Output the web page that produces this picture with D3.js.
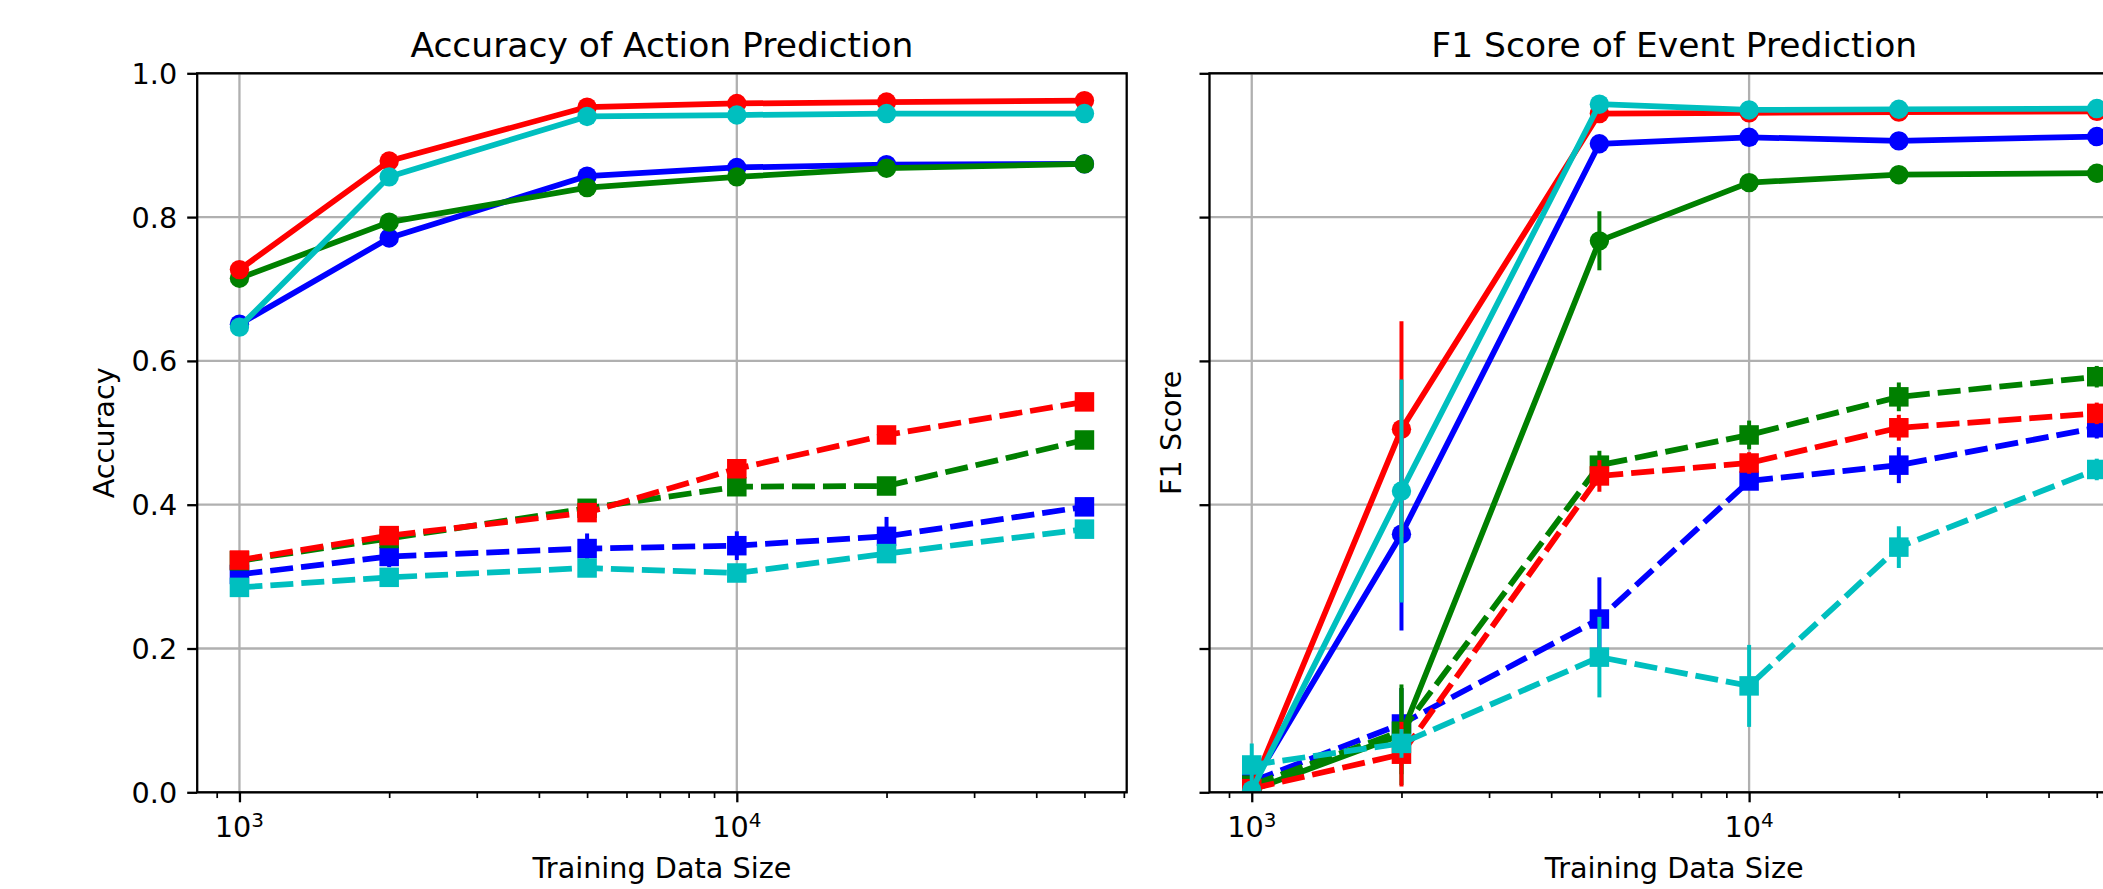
<!DOCTYPE html>
<html>
<head>
<meta charset="utf-8">
<script src="https://cdn.jsdelivr.net/npm/d3@7"></script>
<style>
  html, body { margin: 0; padding: 0; background: #fff; overflow: hidden; }
  svg { display: block; }
  text { font-family: "DejaVu Sans", sans-serif; fill: #000; }
</style>
</head>
<body>
<script>
  // training sizes (x) and the series, rows ordered blue, green, red, cyan
  var sizes = [1000, 2000, 5000, 10000, 20000, 50000];
  var colors = ["#0000ff", "#008000", "#ff0000", "#00bfbf"];
  var xMajor = [1000, 10000];
  var yTicks = [0, 0.2, 0.4, 0.6, 0.8, 1.0];

  var accSolid = [
    [0.651, 0.771, 0.857, 0.869, 0.873, 0.874],
    [0.715, 0.793, 0.841, 0.856, 0.868, 0.874],
    [0.727, 0.878, 0.953, 0.958, 0.960, 0.962],
    [0.647, 0.856, 0.940, 0.942, 0.944, 0.944]
  ];
  var accSolidErr = [
    [0.005, 0.005, 0.005, 0.005, 0.004, 0.004],
    [0.005, 0.005, 0.005, 0.004, 0.004, 0.004],
    [0.005, 0.005, 0.004, 0.004, 0.004, 0.004],
    [0.005, 0.005, 0.004, 0.004, 0.004, 0.004]
  ];
  var accDashed = [
    [0.303, 0.328, 0.339, 0.343, 0.356, 0.397],
    [0.322, 0.353, 0.395, 0.425, 0.426, 0.490],
    [0.323, 0.357, 0.389, 0.450, 0.497, 0.543],
    [0.285, 0.299, 0.312, 0.305, 0.332, 0.366]
  ];
  var accDashedErr = [
    [0.010, 0.015, 0.021, 0.020, 0.027, 0.010],
    [0.010, 0.010, 0.010, 0.010, 0.010, 0.010],
    [0.010, 0.010, 0.010, 0.010, 0.010, 0.010],
    [0.010, 0.010, 0.010, 0.010, 0.010, 0.010]
  ];

  var f1Solid = [
    [0.010, 0.359, 0.902, 0.911, 0.906, 0.912],
    [0.003, 0.080, 0.767, 0.848, 0.859, 0.861],
    [0.005, 0.505, 0.944, 0.945, 0.946, 0.947],
    [0.003, 0.419, 0.957, 0.949, 0.950, 0.951]
  ];
  var f1SolidErr = [
    [0.005, 0.134, 0.005, 0.005, 0.005, 0.005],
    [0.005, 0.070, 0.041, 0.005, 0.005, 0.005],
    [0.005, 0.150, 0.005, 0.005, 0.005, 0.005],
    [0.005, 0.155, 0.005, 0.005, 0.005, 0.005]
  ];
  var f1Dashed = [
    [0.015, 0.095, 0.241, 0.433, 0.455, 0.507],
    [0.010, 0.085, 0.455, 0.497, 0.550, 0.578],
    [0.005, 0.053, 0.440, 0.458, 0.507, 0.527],
    [0.038, 0.068, 0.188, 0.148, 0.341, 0.449]
  ];
  var f1DashedErr = [
    [0.010, 0.050, 0.058, 0.010, 0.025, 0.015],
    [0.010, 0.060, 0.020, 0.020, 0.020, 0.015],
    [0.005, 0.045, 0.022, 0.015, 0.018, 0.015],
    [0.030, 0.020, 0.056, 0.057, 0.029, 0.015]
  ];

  var width = 2103, height = 889;
  var marginTop = 73.3, axW = 929.5, axH = 719;
  var lw = 5.75, thin = 2.3;

  var svg = d3.select("body").append("svg")
      .attr("width", width)
      .attr("height", height);

  // log x with 5% margins in log space (matplotlib style)
  var lx = d3.extent(sizes).map(Math.log10),
      pad = (lx[1] - lx[0]) * 0.05;
  var xScale = d3.scaleLog()
      .domain([Math.pow(10, lx[0] - pad), Math.pow(10, lx[1] + pad)])
      .range([0, axW]);
  var yScale = d3.scaleLinear().domain([0, 1]).range([axH, 0]);

  var minorTicks = [];
  [100, 1000, 10000].forEach(function(dec) {
    for (var k = 2; k < 10; k++) {
      var v = dec * k;
      if (v > xScale.domain()[0] && v < xScale.domain()[1]) minorTicks.push(v);
    }
  });

  function drawSeries(g, vals, errs, color, dashed) {
    var pts = sizes.map(function(s, j) { return {x: s, y: vals[j], e: errs[j]}; });
    var s = g.append("g");

    s.selectAll("line").data(pts).enter().append("line")
      .attr("x1", function(d) { return xScale(d.x); })
      .attr("x2", function(d) { return xScale(d.x); })
      .attr("y1", function(d) { return yScale(d.y - d.e); })
      .attr("y2", function(d) { return yScale(d.y + d.e); })
      .attr("stroke", color)
      .attr("stroke-width", 4);

    var line = d3.line()
      .x(function(d) { return xScale(d.x); })
      .y(function(d) { return yScale(d.y); });

    s.append("path")
      .datum(pts)
      .attr("d", line)
      .attr("fill", "none")
      .attr("stroke", color)
      .attr("stroke-width", lw)
      .attr("stroke-linejoin", "round")
      .attr("stroke-dasharray", dashed ? "23,8" : null);

    if (dashed) {
      s.selectAll("rect").data(pts).enter().append("rect")
        .attr("x", function(d) { return xScale(d.x) - 9.75; })
        .attr("y", function(d) { return yScale(d.y) - 9.75; })
        .attr("width", 19.5)
        .attr("height", 19.5)
        .attr("fill", color);
    } else {
      s.selectAll("circle").data(pts).enter().append("circle")
        .attr("cx", function(d) { return xScale(d.x); })
        .attr("cy", function(d) { return yScale(d.y); })
        .attr("r", 9.7)
        .attr("fill", color);
    }
  }

  function drawPanel(id, x0, title, ylabel, ylabelX, solid, solidErr, dashed, dashedErr, tickLabels) {
    var g = svg.append("g")
        .attr("transform", "translate(" + x0 + "," + marginTop + ")");

    g.append("clipPath").attr("id", id)
      .append("rect").attr("width", axW).attr("height", axH);

    // grid
    g.append("g").selectAll("line").data(xMajor).enter().append("line")
      .attr("x1", function(d) { return xScale(d); })
      .attr("x2", function(d) { return xScale(d); })
      .attr("y1", 0).attr("y2", axH)
      .attr("stroke", "#b0b0b0").attr("stroke-width", thin);
    g.append("g").selectAll("line").data(yTicks).enter().append("line")
      .attr("x1", 0).attr("x2", axW)
      .attr("y1", function(d) { return yScale(d); })
      .attr("y2", function(d) { return yScale(d); })
      .attr("stroke", "#b0b0b0").attr("stroke-width", thin);

    var data = g.append("g").attr("clip-path", "url(#" + id + ")");
    colors.forEach(function(c, i) {
      drawSeries(data, solid[i], solidErr[i], c, false);
      drawSeries(data, dashed[i], dashedErr[i], c, true);
    });

    // spines
    g.append("rect")
      .attr("width", axW).attr("height", axH)
      .attr("fill", "none").attr("stroke", "#000").attr("stroke-width", thin);

    // axis-x
    var xa = g.append("g")
      .attr("transform", "translate(0," + axH + ")")
      .call(d3.axisBottom(xScale).tickValues(xMajor).tickSize(10).tickFormat(""));
    xa.select(".domain").remove();
    xa.selectAll("line").attr("stroke-width", thin);
    var xm = g.append("g")
      .attr("transform", "translate(0," + axH + ")")
      .call(d3.axisBottom(xScale).tickValues(minorTicks).tickSize(5.75).tickFormat(""));
    xm.select(".domain").remove();
    xm.selectAll("line").attr("stroke-width", 1.7);

    var lab = g.append("g").selectAll("text").data(xMajor).enter().append("text")
      .attr("x", function(d) { return xScale(d); })
      .attr("y", axH + 44.4)
      .attr("text-anchor", "middle")
      .style("font-size", "28.7px");
    lab.append("tspan").text("10");
    lab.append("tspan").attr("dy", -10).style("font-size", "20px")
      .text(function(d) { return Math.round(Math.log10(d)); });

    // axis-y
    var ya = g.append("g")
      .call(d3.axisLeft(yScale).tickValues(yTicks).tickSize(10).tickFormat(""));
    ya.select(".domain").remove();
    ya.selectAll("line").attr("stroke-width", thin);
    if (tickLabels) {
      g.append("g").selectAll("text").data(yTicks).enter().append("text")
        .attr("x", -20)
        .attr("y", function(d) { return yScale(d); })
        .attr("dy", "0.3645em")
        .attr("text-anchor", "end")
        .style("font-size", "28.7px")
        .text(function(d) { return d.toFixed(1); });
    }

    g.append("text")
      .attr("x", axW / 2).attr("y", -16.3)
      .attr("text-anchor", "middle")
      .style("font-size", "34.5px")
      .text(title);

    g.append("text")
      .attr("x", axW / 2).attr("y", axH + 85.7)
      .attr("text-anchor", "middle")
      .style("font-size", "28.7px")
      .text("Training Data Size");

    g.append("text")
      .attr("transform", "translate(" + ylabelX + "," + (axH / 2) + ") rotate(-90)")
      .attr("text-anchor", "middle")
      .style("font-size", "28.7px")
      .text(ylabel);
  }

  drawPanel("clipA", 197.2, "Accuracy of Action Prediction", "Accuracy", -83,
            accSolid, accSolidErr, accDashed, accDashedErr, true);
  drawPanel("clipB", 1209.5, "F1 Score of Event Prediction", "F1 Score", -28.5,
            f1Solid, f1SolidErr, f1Dashed, f1DashedErr, false);
</script>
</body>
</html>
